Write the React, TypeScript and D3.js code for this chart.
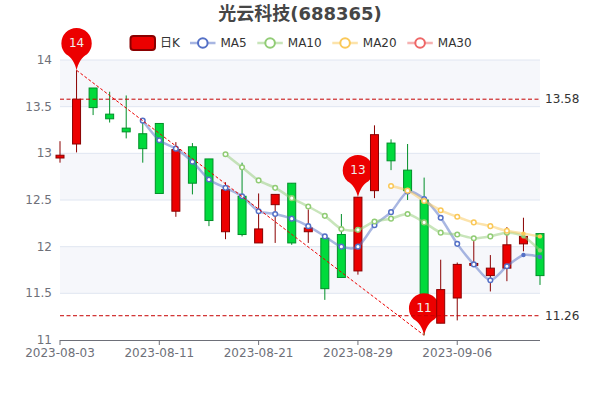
import * as d3 from 'd3';
import { Fragment } from 'react';

const dates = [
  '2023-08-03', '2023-08-04', '2023-08-07', '2023-08-08', '2023-08-09', '2023-08-10',
  '2023-08-11', '2023-08-14', '2023-08-15', '2023-08-16', '2023-08-17', '2023-08-18',
  '2023-08-21', '2023-08-22', '2023-08-23', '2023-08-24', '2023-08-25', '2023-08-28',
  '2023-08-29', '2023-08-30', '2023-08-31', '2023-09-01', '2023-09-04', '2023-09-05',
  '2023-09-06', '2023-09-07', '2023-09-08', '2023-09-11', '2023-09-12', '2023-09-13',
];
const tickDates = ['2023-08-03', '2023-08-11', '2023-08-21', '2023-08-29', '2023-09-06'];
const priceTicks = [11, 11.5, 12, 12.5, 13, 13.5, 14];

const opens = [12.95, 13.1, 13.7, 13.42, 13.27, 13.21, 13.32, 12.38, 13.07, 12.94, 12.16, 12.54, 12.04, 12.45, 12.68, 12.16, 12.09, 12.13, 11.74, 12.6, 13.11, 12.82, 12.5, 11.18, 11.45, 11.8, 11.69, 11.77, 12.03, 12.14];
const closes = [12.98, 13.58, 13.49, 13.37, 13.23, 13.05, 12.57, 13.04, 12.68, 12.28, 12.61, 12.13, 12.19, 12.56, 12.04, 12.2, 11.55, 11.67, 12.53, 13.2, 12.92, 12.6, 11.26, 11.54, 11.81, 11.82, 11.77, 12.02, 12.11, 11.69];
const lows = [12.9, 13.01, 13.41, 13.33, 13.16, 12.9, 12.57, 12.32, 12.56, 12.22, 12.08, 12.11, 12.04, 12.04, 12.02, 12.04, 11.43, 11.67, 11.7, 12.52, 12.82, 12.5, 11.05, 11.18, 11.21, 11.8, 11.52, 11.63, 11.95, 11.59];
const highs = [13.13, 13.89, 13.7, 13.66, 13.62, 13.34, 13.32, 13.12, 13.11, 12.94, 12.69, 12.9, 12.57, 12.56, 12.68, 12.4, 12.11, 12.35, 12.53, 13.3, 13.15, 13.1, 12.74, 11.86, 11.83, 12.06, 11.91, 12.21, 12.31, 12.14];

// moving averages start where the picture starts them, so they are listed with an offset
const ma5Start = 5;
const ma5 = [13.35, 13.14, 13.05, 12.91, 12.72, 12.63, 12.54, 12.38, 12.35, 12.3, 12.22, 12.11, 12.0, 12.0, 12.23, 12.37, 12.59, 12.51, 12.31, 12.03, 11.81, 11.64, 11.79, 11.91, 11.89];
const ma10Start = 10;
const ma10 = [12.99, 12.85, 12.71, 12.63, 12.52, 12.43, 12.33, 12.19, 12.18, 12.27, 12.3, 12.35, 12.26, 12.15, 12.13, 12.09, 12.11, 12.15, 12.11, 11.96];
const ma20Start = 20;
const ma20 = [12.65, 12.6, 12.49, 12.39, 12.32, 12.26, 12.22, 12.17, 12.14, 12.11];

const maxHighIndex = 1;
const closePeakIndex = 18;
const minLowIndex = 22;

const RED = '#ec0000';
const RED_DARK = '#8a0000';
const GREEN = '#00da3c';
const GREEN_DARK = '#008f28';
const BLUE = '#5470c6';
const LIME = '#91cc75';
const AMBER = '#fac858';
const ROSE = '#ee6666';
const FONT = '"DejaVu Sans", "Noto Sans CJK SC", sans-serif';

const maSeries = [
  { name: 'MA5', color: BLUE, start: ma5Start, values: ma5, legendX: 190 },
  { name: 'MA10', color: LIME, start: ma10Start, values: ma10, legendX: 257.3 },
  { name: 'MA20', color: AMBER, start: ma20Start, values: ma20, legendX: 332.3 },
  { name: 'MA30', color: ROSE, start: 0, values: [] as number[], legendX: 407.3 },
];

const width = 600;
const height = 400;
const left = 60;
const right = 540;
const top = 60;
const bottom = 340;
// the last markers in the reference are small solid dots
const solidFrom = 28;

const x = d3.scalePoint<string>().domain(dates).range([left, right]);
const y = d3.scaleLinear().domain([11, 14]).range([bottom, top]);
const X = (i: number) => x(dates[i]) as number;

function pinPath(tx: number, ty: number) {
  const r = 15.2;
  const cy = ty - 27;
  return `M${tx},${ty} C${tx - 1.5},${ty - 7} ${tx - 5},${ty - 13} ${tx - 10.5},${cy + 11}
    A${r},${r} 0 1 1 ${tx + 10.5},${cy + 11} C${tx + 5},${ty - 13} ${tx + 1.5},${ty - 7} ${tx},${ty} Z`;
}

function Pin({ index, value }: { index: number; value: number }) {
  const tx = X(index);
  const ty = y(value);
  return (
    <g>
      <path d={pinPath(tx, ty)} fill={RED} />
      <text x={tx} y={ty - 27} textAnchor="middle" dominantBaseline="central" fontSize={12} fontFamily={FONT} fill="#eee">
        {d3.format('.0f')(value)}
      </text>
    </g>
  );
}

function Candle({ i }: { i: number }) {
  const up = closes[i] >= opens[i];
  const fill = up ? RED : GREEN;
  const stroke = up ? RED_DARK : GREEN_DARK;
  const cx = X(i);
  const bodyTop = y(Math.max(opens[i], closes[i]));
  const bodyBottom = y(Math.min(opens[i], closes[i]));
  return (
    <g>
      <line x1={cx} x2={cx} y1={y(highs[i])} y2={y(lows[i])} stroke={stroke} strokeWidth={1} />
      <rect x={cx - 4} y={bodyTop} width={8} height={bodyBottom - bodyTop} fill={fill} stroke={stroke} strokeWidth={1} />
    </g>
  );
}

export default function App() {
  const bands = priceTicks.slice(0, -1);
  return (
    <svg width={width} height={height} style={{ position: 'absolute', left: 0, top: 0 }}>
      <rect width={width} height={height} fill="#fff" />
      <text x={300} y={20} textAnchor="middle" fontSize={18} fontWeight="bold" fontFamily={FONT} fill="#464646">
        光云科技(688365)
      </text>

      {/* legend */}
      <rect x={130.5} y={36} width={24.5} height={14} rx={3} fill={RED} stroke={RED_DARK} strokeWidth={2} />
      <text x={160} y={43} dominantBaseline="central" fontSize={12} fontFamily={FONT} fill="#333">
        日K
      </text>
      {maSeries.map((s) => (
        <g key={s.name}>
          <line x1={s.legendX} x2={s.legendX + 25.5} y1={43} y2={43} stroke={s.color} strokeWidth={2.5} opacity={0.5} />
          <circle cx={s.legendX + 12.8} cy={43} r={4.8} fill="#fff" stroke={s.color} strokeWidth={2} />
          <text x={s.legendX + 30.5} y={43} dominantBaseline="central" fontSize={12} fontFamily={FONT} fill="#333">
            {s.name}
          </text>
        </g>
      ))}

      {/* split areas and split lines */}
      {bands.map((t, i) =>
        (bands.length - 1 - i) % 2 === 0 ? (
          <rect key={t} x={left} width={right - left} y={y(t + 0.5)} height={y(t) - y(t + 0.5)} fill="#f6f7fb" />
        ) : null,
      )}
      {priceTicks.slice(1).map((t) => (
        <line key={t} x1={left} x2={right} y1={y(t)} y2={y(t)} stroke="#e0e6f1" strokeWidth={1} />
      ))}

      {/* axes */}
      {priceTicks.map((t) => (
        <text key={t} x={52} y={y(t)} textAnchor="end" dominantBaseline="central" fontSize={12} fontFamily={FONT} fill="#6e7079">
          {t}
        </text>
      ))}
      <line x1={left} x2={right} y1={bottom + 0.5} y2={bottom + 0.5} stroke="#6e7079" strokeWidth={1} />
      {tickDates.map((d) => (
        <g key={d}>
          <line x1={x(d)} x2={x(d)} y1={bottom} y2={bottom + 5} stroke="#6e7079" strokeWidth={1} />
          <text x={x(d)} y={353} textAnchor="middle" dominantBaseline="central" fontSize={12} fontFamily={FONT} fill="#6e7079">
            {d}
          </text>
        </g>
      ))}

      {/* candles, each pin sits above its own candle and below the later ones */}
      {dates.map((d, i) => (
        <Fragment key={d}>
          <Candle i={i} />
          {i === maxHighIndex && <Pin index={i} value={highs[i]} />}
          {i === closePeakIndex && <Pin index={i} value={closes[i]} />}
          {i === minLowIndex && <Pin index={i} value={lows[i]} />}
        </Fragment>
      ))}

      {/* moving averages */}
      {maSeries.map((s) => {
        const path = d3
          .line<number>()
          .x((_, i) => X(s.start + i))
          .y((v) => y(v))
          .curve(d3.curveCardinal.tension(0.2))(s.values);
        return (
          <g key={s.name}>
            {path && <path d={path} fill="none" stroke={s.color} strokeWidth={2.5} opacity={0.5} />}
            {s.values.map((v, i) =>
              s.start + i >= solidFrom ? (
                <circle key={i} cx={X(s.start + i)} cy={y(v)} r={2.2} fill={s.color} />
              ) : (
                <circle key={i} cx={X(s.start + i)} cy={y(v)} r={2.3} fill="#fff" stroke={s.color} strokeWidth={1.5} />
              ),
            )}
          </g>
        );
      })}

      {/* mark lines */}
      {[closes[maxHighIndex], closes[minLowIndex]].map((v) => (
        <g key={v}>
          <line x1={left} x2={right} y1={y(v)} y2={y(v)} stroke="#c60000" strokeWidth={1} strokeDasharray="4 2.5" />
          <text x={545} y={y(v)} dominantBaseline="central" fontSize={12} fontFamily={FONT} fill="#333">
            {v.toFixed(2)}
          </text>
        </g>
      ))}
      <line
        x1={X(maxHighIndex)}
        x2={X(minLowIndex)}
        y1={y(highs[maxHighIndex])}
        y2={y(lows[minLowIndex])}
        stroke="#ec0000"
        strokeWidth={1}
        strokeDasharray="3 2"
      />
    </svg>
  );
}
